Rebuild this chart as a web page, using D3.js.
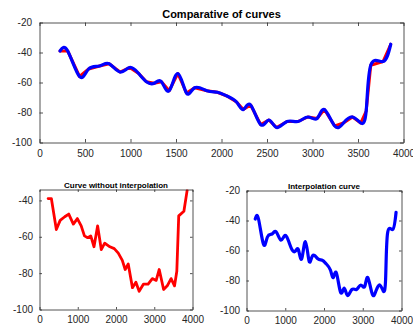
<!DOCTYPE html>
<html>
<head>
<meta charset="utf-8">
<script src="https://cdn.jsdelivr.net/npm/d3@7"></script>
<style>
  body { margin: 0; background: #fff; }
  svg { display: block; font-family: "Liberation Sans", Arial, sans-serif; }
</style>
</head>
<body>
<div id="chart"></div>
<script>
// measured samples (x position, level)
const xValues = [225, 310, 440, 540, 660, 765, 885, 990, 1090, 1175, 1260, 1340, 1425, 1520, 1615, 1705,
  1840, 1955, 2060, 2165, 2240, 2320, 2430, 2520, 2605, 2720, 2840, 2950, 3050, 3130, 3245, 3340,
  3440, 3530, 3590, 3640, 3775, 3860];
const yValues = [-39, -39, -56, -51, -49, -47.5, -53, -50, -54, -59.5, -60.5, -59.5, -65.5, -54, -67, -63.5,
  -65.5, -66.5, -69, -73, -78, -75, -88, -85, -90, -86, -86, -83, -84, -78, -89, -87,
  -83, -87, -79, -48.5, -46, -34.5];

const topXTicks = [0, 500, 1000, 1500, 2000, 2500, 3000, 3500, 4000];
const bottomXTicks = [0, 1000, 2000, 3000, 4000];
const yTicksFull = [-100, -80, -60, -40, -20];
const yTicksLeft = [-100, -80, -60, -40];

const titles = ['Comparative of curves', 'Curve without interpolation', 'Interpolation curve'];

const W = 413, H = 327;
const points = xValues.map((x, i) => ({ x: x, y: yValues[i] }));

const svg = d3.select('#chart').append('svg').attr('width', W).attr('height', H);
const axisColor = '#262626';
const plain = d => String(d); // hyphen minus, no thousands separator

function panel(p) {
  const x = d3.scaleLinear().domain([0, 4000]).range([p.left, p.right]);
  const y = d3.scaleLinear().domain(p.yDomain).range([p.bottom, p.top]);
  const g = svg.append('g');
  const clipId = 'clip' + p.id;
  g.append('clipPath').attr('id', clipId).append('rect')
    .attr('x', p.left).attr('y', p.top)
    .attr('width', p.right - p.left).attr('height', p.bottom - p.top);

  const lines = g.append('g').attr('clip-path', `url(#${clipId})`);
  p.series.forEach(s => {
    const line = d3.line().x(d => x(d.x)).y(d => y(d.y)).curve(s.curve);
    lines.append('path').datum(points)
      .attr('d', line)
      .attr('fill', 'none')
      .attr('stroke', s.color)
      .attr('stroke-width', s.width)
      .attr('stroke-linejoin', 'round')
      .attr('stroke-linecap', 'round');
  });

  // axes with inward ticks on all four sides (box on)
  const tl = p.tick;
  const gb = g.append('g').attr('transform', `translate(0,${p.bottom})`)
    .call(d3.axisBottom(x).tickValues(p.xTicks).tickFormat(plain).tickSize(-tl).tickPadding(tl + 4).tickSizeOuter(0));
  const gt = g.append('g').attr('transform', `translate(0,${p.top})`)
    .call(d3.axisTop(x).tickValues(p.xTicks).tickSize(-tl).tickFormat('').tickSizeOuter(0));
  const gl = g.append('g').attr('transform', `translate(${p.left},0)`)
    .call(d3.axisLeft(y).tickValues(p.yTicks).tickFormat(plain).tickSize(-tl).tickPadding(tl + 4).tickSizeOuter(0));
  const gr = g.append('g').attr('transform', `translate(${p.right},0)`)
    .call(d3.axisRight(y).tickValues(p.yTicks).tickSize(-tl).tickFormat('').tickSizeOuter(0));
  [gb, gt, gl, gr].forEach(a => {
    a.selectAll('path, line').attr('stroke', axisColor).attr('stroke-width', 0.8);
    a.selectAll('text').attr('fill', axisColor).attr('font-size', 10)
      .attr('font-family', '"Liberation Sans", Arial, sans-serif');
  });

  g.append('text')
    .attr('x', (p.left + p.right) / 2)
    .attr('y', p.titleY)
    .attr('text-anchor', 'middle')
    .attr('font-weight', 'bold')
    .attr('font-size', p.titleSize)
    .attr('fill', '#000')
    .text(p.title);
}

const natural = d3.curveNatural, straight = d3.curveLinear;

panel({ id: 0, left: 39.5, right: 403.5, top: 22.5, bottom: 142.5, yDomain: [-100, -20],
  xTicks: topXTicks, yTicks: yTicksFull, tick: 3.5, title: titles[0], titleSize: 11, titleY: 18,
  series: [{ color: '#ff0000', width: 3, curve: straight }, { color: '#0000ff', width: 3.2, curve: natural }] });

panel({ id: 1, left: 39.5, right: 192.5, top: 189.5, bottom: 309.5, yDomain: [-100, -34],
  xTicks: bottomXTicks, yTicks: yTicksLeft, tick: 2.5, title: titles[1], titleSize: 8, titleY: 187.5,
  series: [{ color: '#ff0000', width: 2.8, curve: straight }] });

panel({ id: 2, left: 246.5, right: 401.5, top: 190.5, bottom: 310.5, yDomain: [-100, -20],
  xTicks: bottomXTicks, yTicks: yTicksFull, tick: 2.5, title: titles[2], titleSize: 8, titleY: 188.5,
  series: [{ color: '#0000ff', width: 3.2, curve: natural }] });
</script>
</body>
</html>
